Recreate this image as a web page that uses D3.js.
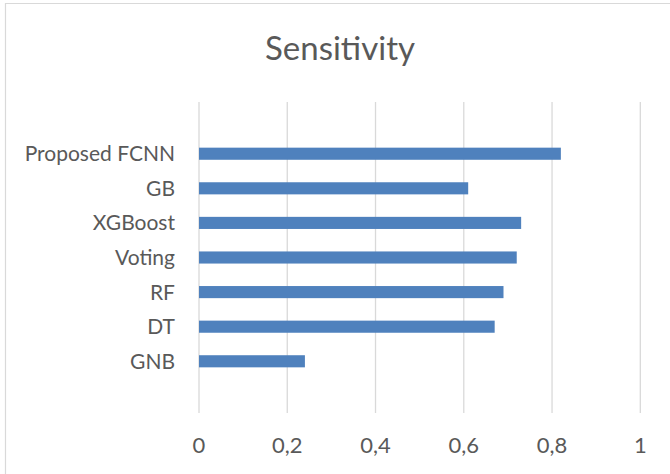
<!DOCTYPE html>
<html>
<head>
<meta charset="utf-8">
<script src="https://cdn.jsdelivr.net/npm/d3@7"></script>
<style>
  body { margin: 0; background: #fff; }
  text { font-family: Lato, "Open Sans", sans-serif; fill: #595959; }
</style>
</head>
<body>
<div id="chart"></div>
<script>
// Sensitivity per model
const models = ["Proposed FCNN", "GB", "XGBoost", "Voting", "RF", "DT", "GNB"];
const sensitivity = [0.82, 0.61, 0.73, 0.72, 0.69, 0.67, 0.24];
const xTicks = [0, 0.2, 0.4, 0.6, 0.8, 1];

const W = 670, H = 474;
const plot = { left: 199, right: 640.3, top: 102, bottom: 413 };

const svg = d3.select("#chart")
  .append("svg")
    .attr("width", W)
    .attr("height", H);

// chart area frame (only top and left edges show in the picture)
svg.append("path")
    .attr("d", `M5.5,${H} V3.5 H${W}`)
    .attr("fill", "none")
    .attr("stroke", "#d9d9d9")
    .attr("stroke-width", 1.2);

const x = d3.scaleLinear()
  .domain([0, 1])
  .range([plot.left, plot.right]);

const y = d3.scaleBand()
  .domain(models)
  .range([plot.top, plot.bottom])
  .paddingInner(0.65)
  .paddingOuter(1.32);

// vertical gridlines
svg.append("g")
  .selectAll("line")
  .data(xTicks)
  .join("line")
    .attr("x1", d => x(d))
    .attr("x2", d => x(d))
    .attr("y1", plot.top)
    .attr("y2", plot.bottom)
    .attr("stroke", "#d9d9d9")
    .attr("stroke-width", 1.3);

// bars
svg.append("g")
  .selectAll("rect")
  .data(models)
  .join("rect")
    .attr("x", x(0))
    .attr("y", d => y(d))
    .attr("width", (d, i) => x(sensitivity[i]) - x(0))
    .attr("height", y.bandwidth())
    .attr("fill", "#4f81bd");

// category labels
svg.append("g")
  .selectAll("text")
  .data(models)
  .join("text")
    .attr("x", 175)
    .attr("y", d => y(d) + y.bandwidth() / 2)
    .attr("dy", "0.36em")
    .attr("text-anchor", "end")
    .style("font-size", "21px")
    .text(d => d);

// value axis labels
const fmt = d => String(d).replace(".", ",");
svg.append("g")
  .selectAll("text")
  .data(xTicks)
  .join("text")
    .attr("x", d => x(d))
    .attr("y", 453)
    .attr("text-anchor", "middle")
    .style("font-size", "22px")
    .text(fmt);

// title
svg.append("text")
    .attr("x", 340)
    .attr("y", 60)
    .attr("text-anchor", "middle")
    .style("font-size", "33px")
    .text("Sensitivity");
</script>
</body>
</html>
